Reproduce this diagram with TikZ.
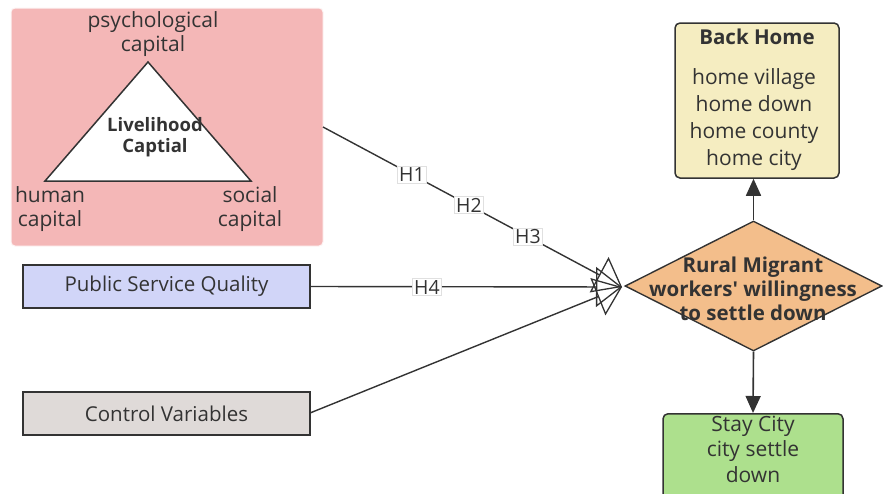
\documentclass[tikz,border=0pt]{standalone}
\usepackage{fontspec}
\setmainfont{Open Sans}
\usetikzlibrary{shapes.geometric,arrows.meta}
\definecolor{ink}{HTML}{333333}
\definecolor{pinkbg}{HTML}{F4B7B7}
\definecolor{psqfill}{HTML}{D1D5F8}
\definecolor{ctlfill}{HTML}{DFDAD8}
\definecolor{dmfill}{HTML}{F3BE8B}
\definecolor{bhfill}{HTML}{F5EDC1}
\definecolor{scfill}{HTML}{ADE08D}
\tikzset{
  varbox/.style={draw=ink, line width=1.4pt, minimum width=287pt, minimum height=43pt, inner sep=0pt, text=ink, font=\fontsize{20.5}{24}\selectfont},
  lbl/.style={text=ink, align=center, font=\fontsize{21}{24}\selectfont, inner sep=0pt},
  hlbl/.style={fill=white, draw=black!12, line width=0.5pt, text=ink, font=\fontsize{19.5}{22}\selectfont, inner sep=1.5pt},
  conn/.style={draw=ink, line width=1.4pt, -{Triangle[open, length=26pt, width=40pt, line width=1.3pt]}},
  solidarr/.style={draw=ink, line width=1.6pt, -{Triangle[length=17pt, width=15pt]}},
}
\begin{document}
\begin{tikzpicture}[x=1pt, y=-1pt]
\useasboundingbox (0,0) rectangle (883,493);
\clip (0,0) rectangle (883,493);
% pink livelihood box
\node[draw=white!85!pinkbg, line width=1pt, fill=pinkbg, rounded corners=4pt, minimum width=312pt, minimum height=238pt, inner sep=0pt] (lc) at (167,127) {};
\draw[draw=ink, fill=white, line width=1.5pt, line join=miter] (148,62) -- (45,181) -- (251,181) -- cycle;
\node[lbl] (psy) at (153,34) {psychological\\capital};
\node[lbl, font=\bfseries\fontsize{18.5}{21}\selectfont] (liv) at (155,137) {Livelihood\\Captial};
\node[lbl] (hum) at (50,209) {human\\capital};
\node[lbl] (soc) at (250,209) {social\\capital};
% variable boxes
\node[varbox, fill=psqfill] (psq) at (166.5,286.5) {Public Service Quality};
\node[varbox, fill=ctlfill] (ctl) at (166.5,413.5) {Control Variables};
% diamond
\node[diamond, draw=ink, line width=1.4pt, fill=dmfill, minimum width=257pt, minimum height=130pt, inner sep=0pt, aspect=1.98] (dm) at (753.5,286) {};
\node[lbl, font=\bfseries\fontsize{20.5}{24}\selectfont] (dmt) at (753,289) {Rural Migrant\\workers\textquotesingle{} willingness\\to settle down};
% outcome boxes
\node[draw=ink, line width=1.5pt, fill=bhfill, rounded corners=5pt, minimum width=164pt, minimum height=155pt, inner sep=0pt] (bh) at (757,100.5) {};
\node[lbl, font=\bfseries\fontsize{20.5}{24}\selectfont] (bhtitle) at (757,37) {Back Home};
\node[lbl, font=\fontsize{21}{27}\selectfont] (bht) at (754,120) {home village\\home down\\home county\\home city};
\node[draw=ink, line width=1.5pt, fill=scfill, rounded corners=5pt, minimum width=180pt, minimum height=100pt, inner sep=0pt, anchor=north] (sc) at (753,413) {};
\node[lbl, font=\fontsize{21}{25.5}\selectfont] (sct) at (753,449) {Stay City\\city settle\\down};
% connectors
\coordinate (tip) at (622,287);
\coordinate (lcout) at (323,127);
\coordinate (ctlout) at (310,413);
\draw[conn] (lcout) -- (tip);
\draw[conn] (psq.east) -- (tip);
\draw[conn] (ctlout) -- (tip);
\draw[solidarr] (dm.north) -- (dm.north |- bh.south);
\draw[solidarr] (dm.south) -- (sc.north);
% hypothesis labels
\node[hlbl] (h1) at (412,175) {H1};
\node[hlbl] (h2) at (469,205) {H2};
\node[hlbl] (h3) at (528,237) {H3};
\node[hlbl] (h4) at (427,287) {H4};
\end{tikzpicture}
\end{document}
